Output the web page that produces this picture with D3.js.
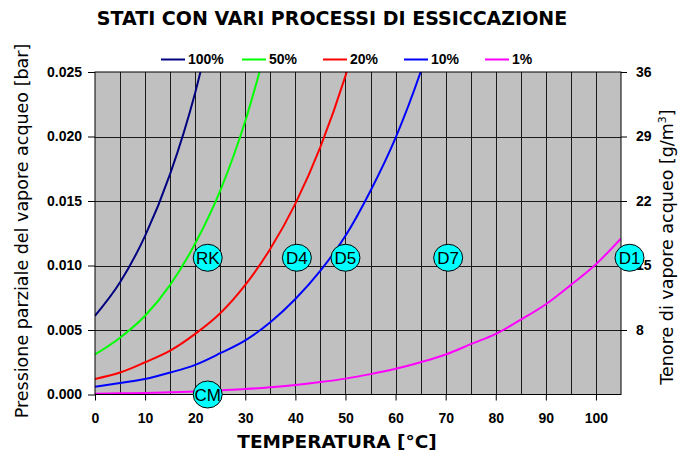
<!DOCTYPE html>
<html><head><meta charset="utf-8">
<script src="https://cdn.jsdelivr.net/npm/d3@7/dist/d3.min.js"></script>
<style>body{margin:0;background:#fff}svg{display:block}</style>
</head><body><svg id="c" width="679" height="454"></svg>
<script>
const title = "STATI CON VARI PROCESSI DI ESSICCAZIONE";
const xTitle = "TEMPERATURA [°C]";
const yTitle = "Pressione parziale del vapore acqueo [bar]";
const y2Title = "Tenore di vapore acqueo [g/m";
const temps = [0,5,10,15,20,25,30,35,40,45,50,55,60,65,70,75,80,85,90,95,100,105];
const rh100 = [0.0061,0.0087,0.0123,0.0171,0.0234,0.0317];
const rh50 = [0.0031,0.0044,0.0061,0.0085,0.0117,0.0158,0.0212,0.0281];
const rh20 = [0.0012,0.0017,0.0025,0.0034,0.0047,0.0063,0.0085,0.0113,0.0148,0.0192,0.0247,0.0315];
const rh10 = [0.0006,0.0009,0.0012,0.0017,0.0023,0.0032,0.0042,0.0056,0.0074,0.0096,0.0123,0.0158,0.0199,0.0250,0.0312];
const rh1 = [0.00006,0.00009,0.00012,0.00017,0.00023,0.00032,0.00042,0.00056,0.00074,0.00096,0.00123,0.00158,0.00199,0.0025,0.0031,0.0039,0.0047,0.0058,0.0070,0.0085,0.0101,0.0121];
const seriesNames = ["100%","50%","20%","10%","1%"];
const seriesColors = ["#000080","#00ff00","#ff0000","#0000ff","#ff00ff"];
const pointLabels = ["RK","D4","D5","D7","D1","CM"];
const pointT = [22.5,40.3,50,70.5,106.7,22.5];
const pointP = [0.0106,0.0106,0.0106,0.0106,0.0106,0.0];
const yTicks = [0,0.005,0.01,0.015,0.02,0.025];
const y2Ticks = [8,15,22,29,36];
const xTicks = [0,10,20,30,40,50,60,70,80,90,100];

const svg = d3.select("#c");
const L=95,R=621,T=72,B=394.5;
const x = d3.scaleLinear().domain([0,105]).range([L,R]);
const y = d3.scaleLinear().domain([0,0.025]).range([B,T]);
const y2 = d3.scaleLinear().domain([1,36]).range([B,T]);

svg.append("rect").attr("x",L).attr("y",T).attr("width",R-L).attr("height",B-T).attr("fill","#c0c0c0");
const grid = svg.append("g").attr("stroke","#1a1a1a").attr("stroke-width",1);
d3.range(5,105,5).forEach(v=>grid.append("line").attr("x1",Math.round(x(v))+0.5).attr("x2",Math.round(x(v))+0.5).attr("y1",T).attr("y2",B));
yTicks.slice(1,-1).forEach(v=>grid.append("line").attr("x1",L).attr("x2",R).attr("y1",Math.round(y(v))+0.5).attr("y2",Math.round(y(v))+0.5));

svg.append("clipPath").attr("id","clip").append("rect").attr("x",L).attr("y",T).attr("width",R-L).attr("height",B-T);
const all = [rh100,rh50,rh20,rh10,rh1];
const line = d3.line().x((d,i)=>x(temps[i])).y(d=>y(d)).curve(d3.curveMonotoneX);
const lg = svg.append("g").attr("clip-path","url(#clip)");
all.forEach((s,k)=>lg.append("path").attr("d",line(s)).attr("fill","none").attr("stroke",seriesColors[k]).attr("stroke-width",2));

svg.append("rect").attr("x",L).attr("y",T).attr("width",R-L).attr("height",B-T).attr("fill","none").attr("stroke","#000").attr("stroke-width",1);

const tickFont = "'Liberation Sans',Arial,sans-serif";
const ax = svg.append("g").attr("transform",`translate(0,${B})`).call(d3.axisBottom(x).tickValues(xTicks).tickFormat(d3.format("d")).tickSize(6).tickPadding(13));
const ay = svg.append("g").attr("transform",`translate(${L},0)`).call(d3.axisLeft(y).tickValues(yTicks).tickFormat(d3.format(".3f")).tickSize(7).tickPadding(6));
const ay2 = svg.append("g").attr("transform",`translate(${R},0)`).call(d3.axisRight(y2).tickValues(y2Ticks).tickFormat(d3.format("d")).tickSize(6).tickPadding(9));
[ax,ay,ay2].forEach(a=>{a.select(".domain").remove();a.selectAll("line").attr("stroke","#000");a.selectAll("text").attr("font-family",tickFont).attr("font-weight","bold").attr("font-size",14).attr("fill","#000");});

svg.append("text").attr("x",332).attr("y",25).attr("text-anchor","middle").attr("font-family","'DejaVu Sans',sans-serif").attr("font-weight","bold").attr("font-size",19).text(title);
svg.append("text").attr("x",337).attr("y",448).attr("text-anchor","middle").attr("font-family","'DejaVu Sans',sans-serif").attr("font-weight","bold").attr("font-size",18.5).text(xTitle);
svg.append("text").attr("transform","translate(28,231) rotate(-90)").attr("text-anchor","middle").attr("font-family","'DejaVu Sans',sans-serif").attr("font-size",17.5).text(yTitle);
const t2 = svg.append("text").attr("transform","translate(673,247) rotate(-90)").attr("text-anchor","middle").attr("font-family","'DejaVu Sans',sans-serif").attr("font-size",17.5).text(y2Title);
t2.append("tspan").attr("font-size",11).attr("dy",-7).text("3");
t2.append("tspan").attr("dy",7).text("]");

const leg = svg.append("g");
seriesNames.forEach((n,i)=>{
  const lx = 161 + i*81;
  leg.append("line").attr("x1",lx).attr("x2",lx+24).attr("y1",59.5).attr("y2",59.5).attr("stroke",seriesColors[i]).attr("stroke-width",2);
  leg.append("text").attr("x",lx+27).attr("y",64).attr("font-family",tickFont).attr("font-weight","bold").attr("font-size",14).text(n);
});

const pg = svg.append("g");
pointLabels.forEach((n,i)=>{
  const cx=x(pointT[i]), cy=y(pointP[i]);
  pg.append("ellipse").attr("cx",cx).attr("cy",cy).attr("rx",14.5).attr("ry",13.5).attr("fill","#00ffff").attr("stroke","#000").attr("stroke-width",1);
  pg.append("text").attr("x",cx).attr("y",cy+6).attr("text-anchor","middle").attr("font-family",tickFont).attr("font-size",17).text(n);
});
</script></body></html>
